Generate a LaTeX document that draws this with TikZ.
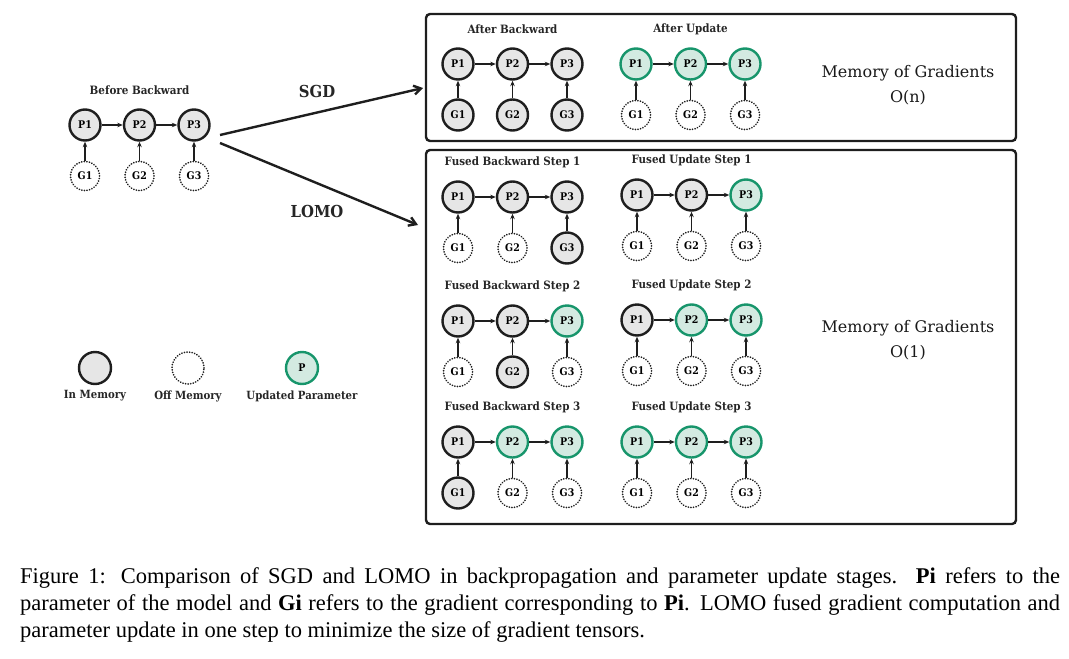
\documentclass[tikz,border=0pt]{standalone}
\usepackage{fontspec}
\setmainfont{Liberation Serif}
\newfontfamily\diagfont{DejaVu Serif Condensed}
\newfontfamily\memfont{DejaVu Serif}
\usetikzlibrary{arrows.meta}

% one panel: name, x of P1, y of P row, title, list i/Pstyle/Gstyle
\newcommand{\drawpanel}[5]{%
    \node[paneltitle] (#1-t) at (#2+54.5,#3-35) {#4};
    \foreach \i/\ps/\gs in {#5} {
        \node[\ps] (#1-P\i) at ({#2+54.5*(\i-1)},#3) {P\i};
        \node[\gs] (#1-G\i) at ({#2+54.5*(\i-1)},#3+51) {G\i};
        \draw[link] (#1-G\i) -- (#1-P\i);
    }
    \draw[link] (#1-P1) -- (#1-P2);
    \draw[link] (#1-P2) -- (#1-P3);
}

\begin{document}
\begin{tikzpicture}[x=1pt, y=-1pt]
    % Define colours
    \definecolor{borderColour}{HTML}{1E1E1E}
    \definecolor{fillColour}{HTML}{E6E6E6}
    \definecolor{greenColour}{HTML}{17956B}
    \definecolor{greenFill}{HTML}{D3EAE1}

    % Define styles
    \tikzset{
        inmem/.style={circle, draw=borderColour, line width=2.4pt, fill=fillColour,
            minimum size=31pt, inner sep=0pt, font=\diagfont\bfseries\fontsize{10.5}{12}\selectfont},
        offmem/.style={circle, draw=borderColour, line width=1.8pt, fill=white,
            dash pattern=on 0.1pt off 2.5pt, line cap=round,
            minimum size=29pt, inner sep=0pt, font=\diagfont\bfseries\fontsize{10.5}{12}\selectfont},
        updated/.style={inmem, draw=greenColour, fill=greenFill},
        link/.style={-{Stealth[length=5.5pt, width=4.5pt]}, line width=1.6pt, draw=borderColour},
        bigarrow/.style={-{Straight Barb[length=7pt, width=9pt]}, line width=2.4pt, draw=borderColour},
        paneltitle/.style={font=\diagfont\bfseries\fontsize{11.5}{13}\selectfont, text=black!85},
        panelbox/.style={draw=borderColour, line width=2.4pt, rounded corners=4pt},
        memtext/.style={align=center, font=\memfont\fontsize{16}{25}\selectfont, text=black!90},
        arrowlabel/.style={font=\diagfont\bfseries\fontsize{16.5}{18}\selectfont, text=black!85},
        legendlabel/.style={font=\diagfont\bfseries\fontsize{11.3}{13}\selectfont, text=black!85}
    }

    % Fix page size
    \useasboundingbox (0,0) rectangle (1069,659);

    % Draw state before backward
    \drawpanel{before}{85}{125}{Before Backward}{1/inmem/offmem,2/inmem/offmem,3/inmem/offmem}

    % Draw boxes
    \draw[panelbox] (426,14) rectangle (1016,141);
    \draw[panelbox] (426,150) rectangle (1016,524);

    % Draw SGD and LOMO arrows
    \coordinate (sgdstart) at (220,135);
    \coordinate (sgdend) at (423,88);
    \coordinate (lomostart) at (220,143);
    \coordinate (lomoend) at (418,225);
    \draw[bigarrow] (sgdstart) -- (sgdend);
    \draw[bigarrow] (lomostart) -- (lomoend);
    \node[arrowlabel] (sgdlabel) at (317,91) {SGD};
    \node[arrowlabel] (lomolabel) at (317,211) {LOMO};

    % Draw SGD panels
    \drawpanel{ab}{458}{64}{After Backward}{1/inmem/inmem,2/inmem/inmem,3/inmem/inmem}
    \drawpanel{au}{636}{64}{After Update}{1/updated/offmem,2/updated/offmem,3/updated/offmem}
    \node[memtext] (memsgd) at (908,85) {Memory of Gradients\\O(n)};

    % Draw LOMO panels
    \drawpanel{fb1}{458}{197}{Fused Backward Step 1}{1/inmem/offmem,2/inmem/offmem,3/inmem/inmem}
    \drawpanel{fu1}{637}{195}{Fused Update Step 1}{1/inmem/offmem,2/inmem/offmem,3/updated/offmem}
    \drawpanel{fb2}{458}{321}{Fused Backward Step 2}{1/inmem/offmem,2/inmem/inmem,3/updated/offmem}
    \drawpanel{fu2}{637}{320}{Fused Update Step 2}{1/inmem/offmem,2/updated/offmem,3/updated/offmem}
    \drawpanel{fb3}{458}{442}{Fused Backward Step 3}{1/inmem/inmem,2/updated/offmem,3/updated/offmem}
    \drawpanel{fu3}{637}{442}{Fused Update Step 3}{1/updated/offmem,2/updated/offmem,3/updated/offmem}
    \node[memtext] (memlomo) at (908,340) {Memory of Gradients\\O(1)};

    % Draw legend
    \node[inmem, minimum size=32pt] (legin) at (95,368) {};
    \node[offmem, minimum size=32pt] (legoff) at (188,368) {};
    \node[updated, minimum size=32pt] (legup) at (302,368) {P};
    \node[legendlabel] (leginlabel) at (95,396) {In Memory};
    \node[legendlabel] (legofflabel) at (188,396) {Off Memory};
    \node[legendlabel] (leguplabel) at (302,396) {Updated Parameter};

    % Caption
    \node[anchor=north west, text width=1040pt, align=justify, inner sep=0pt,
        font=\fontsize{22.5}{27}\selectfont] (caption) at (20,567)
        {Figure 1: Comparison of SGD and LOMO in backpropagation and parameter update stages. \textbf{Pi} refers to the\linebreak
        parameter of the model and \textbf{Gi} refers to the gradient corresponding to \textbf{Pi}. LOMO fused gradient computation and\linebreak
        parameter update in one step to minimize the size of gradient tensors.};
\end{tikzpicture}
\end{document}
